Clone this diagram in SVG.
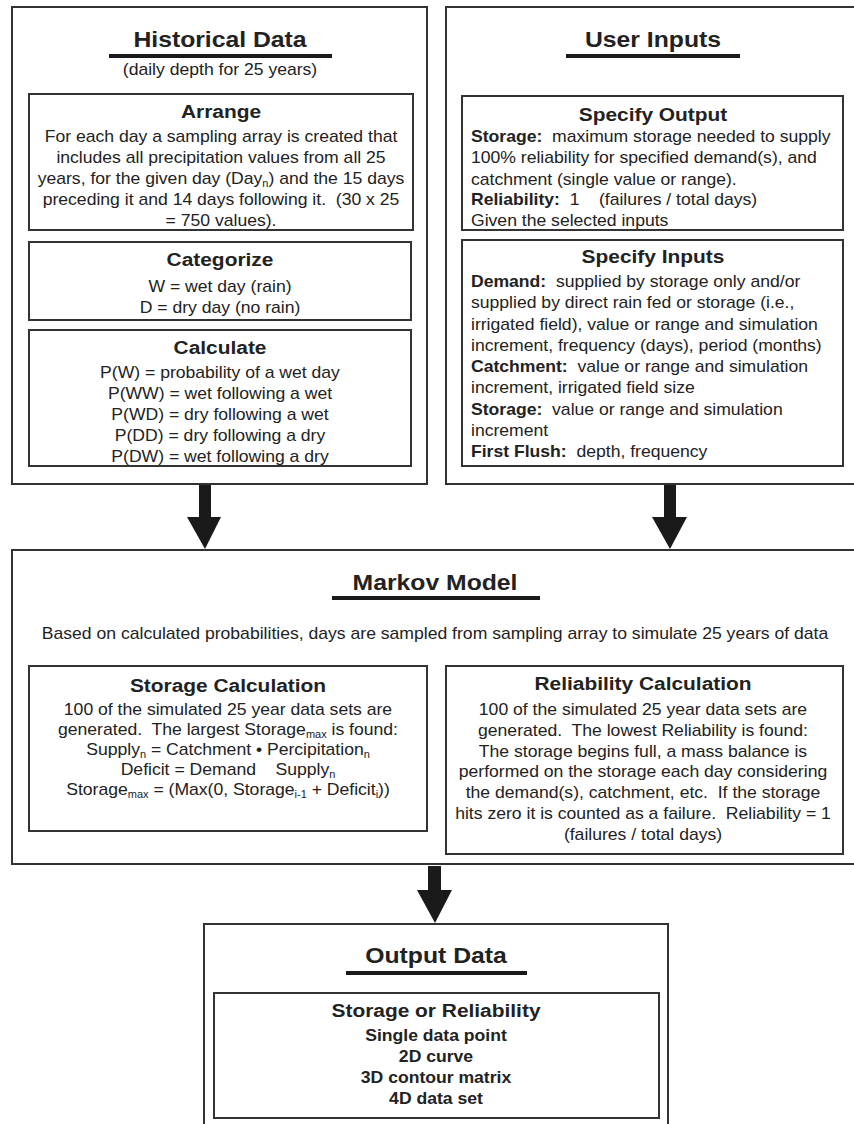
<svg xmlns="http://www.w3.org/2000/svg" width="854" height="1124" viewBox="0 0 854 1124">
<style>
.box{fill:#fff;stroke:#333;stroke-width:2}
.ul{fill:#1a1a1a}
.t{font-family:"Liberation Sans",Arial,sans-serif;fill:#222}
.h1{font-size:22.5px;font-weight:bold;text-anchor:middle}
.h2{font-size:19px;font-weight:bold;text-anchor:middle}
.b{font-size:16px;text-anchor:middle}
.l{font-size:16px;text-anchor:start}
.bb{font-size:16px;font-weight:bold;text-anchor:middle}
.bold{font-weight:bold}
.sub{font-size:10px}
.arrow{fill:#1a1a1a}
</style>
<rect width="854" height="1124" fill="#fff"/>

<g id="historical">
<rect class="box" x="12" y="7" width="415" height="477"/>
<g class="t" transform="translate(220 0) scale(1.1 1)">
<text class="h1" x="0" y="47">Historical Data</text>
<text class="b" x="0" y="75">(daily depth for 25 years)</text>
</g>
<rect class="ul" x="109" y="54" width="223" height="4"/>
</g>

<g id="arrange">
<rect class="box" x="29" y="94" width="384" height="136"/>
<g class="t" transform="translate(221 0) scale(1.1 1)">
<text class="h2" x="0" y="118">Arrange</text>
<text class="b" x="0" y="142">For each day a sampling array is created that</text>
<text class="b" x="0" y="163">includes all precipitation values from all 25</text>
<text class="b" x="0" y="184">years, for the given day (Day<tspan class="sub" dy="3">n</tspan><tspan dy="-3">) and the 15 days</tspan></text>
<text class="b" x="0" y="205" xml:space="preserve">preceding it and 14 days following it.  (30 x 25</text>
<text class="b" x="0" y="226">= 750 values).</text>
</g>
</g>

<g id="categorize">
<rect class="box" x="29" y="242" width="382" height="78"/>
<g class="t" transform="translate(220 0) scale(1.1 1)">
<text class="h2" x="0" y="266">Categorize</text>
<text class="b" x="0" y="292">W = wet day (rain)</text>
<text class="b" x="0" y="313">D = dry day (no rain)</text>
</g>
</g>

<g id="calculate">
<rect class="box" x="29" y="330" width="382" height="136"/>
<g class="t" transform="translate(220 0) scale(1.1 1)">
<text class="h2" x="0" y="354">Calculate</text>
<text class="b" x="0" y="378">P(W) = probability of a wet day</text>
<text class="b" x="0" y="399">P(WW) = wet following a wet</text>
<text class="b" x="0" y="420">P(WD) = dry following a wet</text>
<text class="b" x="0" y="441">P(DD) = dry following a dry</text>
<text class="b" x="0" y="462">P(DW) = wet following a dry</text>
</g>
</g>

<g id="user-inputs">
<rect class="box" x="446" y="7" width="420" height="477"/>
<g class="t" transform="translate(653 0) scale(1.1 1)">
<text class="h1" x="0" y="47">User Inputs</text>
</g>
<rect class="ul" x="566" y="54" width="174" height="4"/>
</g>

<g id="specify-output">
<rect class="box" x="462" y="96" width="381" height="134"/>
<g class="t" transform="translate(653 0) scale(1.1 1)">
<text class="h2" x="0" y="121">Specify Output</text>
</g>
<g class="t" transform="translate(471 0) scale(1.1 1)">
<text class="l" x="0" y="142" xml:space="preserve"><tspan class="bold">Storage:</tspan>  maximum storage needed to supply</text>
<text class="l" x="0" y="163">100% reliability for specified demand(s), and</text>
<text class="l" x="0" y="185">catchment (single value or range).</text>
<text class="l" x="0" y="205" xml:space="preserve"><tspan class="bold">Reliability:</tspan>  1    (failures / total days)</text>
<text class="l" x="0" y="226">Given the selected inputs</text>
</g>
</g>

<g id="specify-inputs">
<rect class="box" x="462" y="240" width="381" height="226"/>
<g class="t" transform="translate(653 0) scale(1.1 1)">
<text class="h2" x="0" y="263">Specify Inputs</text>
</g>
<g class="t" transform="translate(471 0) scale(1.1 1)">
<text class="l" x="0" y="287" xml:space="preserve"><tspan class="bold">Demand:</tspan>  supplied by storage only and/or</text>
<text class="l" x="0" y="308">supplied by direct rain fed or storage (i.e.,</text>
<text class="l" x="0" y="330">irrigated field), value or range and simulation</text>
<text class="l" x="0" y="351">increment, frequency (days), period (months)</text>
<text class="l" x="0" y="372" xml:space="preserve"><tspan class="bold">Catchment:</tspan>  value or range and simulation</text>
<text class="l" x="0" y="393">increment, irrigated field size</text>
<text class="l" x="0" y="415" xml:space="preserve"><tspan class="bold">Storage:</tspan>  value or range and simulation</text>
<text class="l" x="0" y="436">increment</text>
<text class="l" x="0" y="457" xml:space="preserve"><tspan class="bold">First Flush:</tspan>  depth, frequency</text>
</g>
</g>

<g id="markov">
<rect class="box" x="12" y="550" width="850" height="314"/>
<g class="t" transform="translate(435 0) scale(1.1 1)">
<text class="h1" x="0" y="590">Markov Model</text>
<text class="b" x="0" y="639">Based on calculated probabilities, days are sampled from sampling array to simulate 25 years of data</text>
</g>
<rect class="ul" x="332" y="596" width="208" height="4"/>
</g>

<g id="storage-calculation">
<rect class="box" x="29" y="666" width="398" height="165"/>
<g class="t" transform="translate(228 0) scale(1.1 1)">
<text class="h2" x="0" y="692">Storage Calculation</text>
<text class="b" x="0" y="715">100 of the simulated 25 year data sets are</text>
<text class="b" x="0" y="735" xml:space="preserve">generated.  The largest Storage<tspan class="sub" dy="3">max</tspan><tspan dy="-3"> is found:</tspan></text>
<text class="b" x="0" y="755">Supply<tspan class="sub" dy="3">n</tspan><tspan dy="-3"> = Catchment • Percipitation</tspan><tspan class="sub" dy="3">n</tspan></text>
<text class="b" x="0" y="775" xml:space="preserve">Deficit = Demand    Supply<tspan class="sub" dy="3">n</tspan></text>
<text class="b" x="0" y="795">Storage<tspan class="sub" dy="3">max</tspan><tspan dy="-3"> = (Max(0, Storage</tspan><tspan class="sub" dy="3">i-1</tspan><tspan dy="-3"> + Deficit</tspan><tspan class="sub" dy="3">i</tspan><tspan dy="-3">))</tspan></text>
</g>
</g>

<g id="reliability-calculation">
<rect class="box" x="446" y="666" width="397" height="188"/>
<g class="t" transform="translate(643 0) scale(1.1 1)">
<text class="h2" x="0" y="690">Reliability Calculation</text>
<text class="b" x="0" y="715">100 of the simulated 25 year data sets are</text>
<text class="b" x="0" y="736" xml:space="preserve">generated.  The lowest Reliability is found:</text>
<text class="b" x="0" y="757">The storage begins full, a mass balance is</text>
<text class="b" x="0" y="777">performed on the storage each day considering</text>
<text class="b" x="0" y="798" xml:space="preserve">the demand(s), catchment, etc.  If the storage</text>
<text class="b" x="0" y="819" xml:space="preserve">hits zero it is counted as a failure.  Reliability = 1</text>
<text class="b" x="0" y="840">(failures / total days)</text>
</g>
</g>

<g id="output-data">
<rect class="box" x="204" y="924" width="464" height="220"/>
<g class="t" transform="translate(436 0) scale(1.1 1)">
<text class="h1" x="0" y="963">Output Data</text>
</g>
<rect class="ul" x="346" y="971" width="181" height="4"/>
</g>

<g id="storage-or-reliability">
<rect class="box" x="214" y="993" width="445" height="125"/>
<g class="t" transform="translate(436 0) scale(1.1 1)">
<text class="h2" x="0" y="1017">Storage or Reliability</text>
<text class="bb" x="0" y="1041">Single data point</text>
<text class="bb" x="0" y="1062">2D curve</text>
<text class="bb" x="0" y="1083">3D contour matrix</text>
<text class="bb" x="0" y="1104">4D data set</text>
</g>
</g>

<g id="connectors">
<path class="arrow" d="M199 485 H211 V517 H221 L205 549 L187 517 H199 Z"/>
<path class="arrow" d="M664 485 H676 V517 H687 L670 549 L652 517 H664 Z"/>
<path class="arrow" d="M428 866 H441 V890 H452 L435 923 L417 890 H428 Z"/>
</g>
</svg>
